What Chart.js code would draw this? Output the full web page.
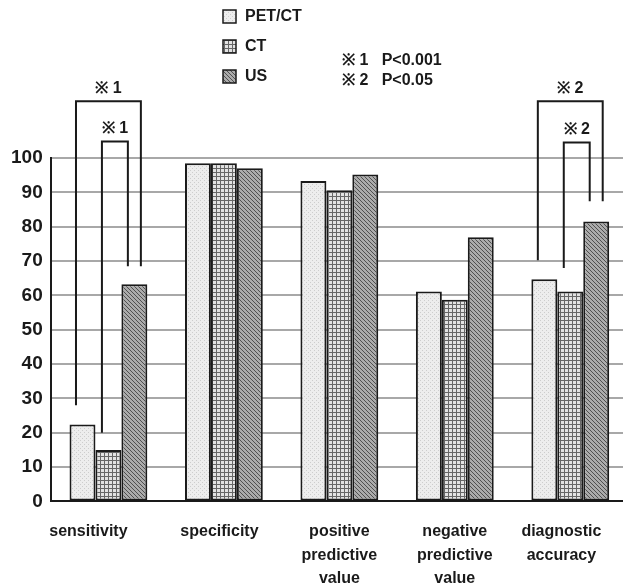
<!DOCTYPE html>
<html>
<head>
<meta charset="utf-8">
<script src="https://cdn.jsdelivr.net/npm/chart.js@4.4.1/dist/chart.umd.min.js"></script>
<style>
  body { margin: 0; overflow: hidden; background: #fff; }
</style>
</head>
<body>
<canvas id="mycanvas" width="632" height="586"></canvas>
<script>
// data
// (trailing spaces nudge the first and last labels left, as in the original)
var categories = [["sensitivity         "], ["specificity  "], ["positive", "predictive", "value"],
                  ["negative", "predictive", "value"], ["diagnostic    ", "accuracy    "]];
var seriesNames = ["PET/CT", "CT", "US"];
var petct = [22.4, 98.5, 93.3, 61.1, 64.7];
var ct    = [15.0, 98.5, 90.6, 58.7, 61.1];
var us    = [63.2, 97.0, 95.2, 76.9, 81.5];
var yMin = 0, yMax = 100, yStep = 10;
var notes = ["\u203B 1   P<0.001", "\u203B 2   P<0.05"];
// significance brackets: category, first/last bar, leg ends (value), top (value)
var brackets = [
  { cat: 0, from: 0, to: 2, left: 28,   right: 68.5, top: 116.5, label: "\u203B 1", inner: false },
  { cat: 0, from: 1, to: 2, left: 20,   right: 68.5, top: 104.8, label: "\u203B 1", inner: true },
  { cat: 4, from: 0, to: 2, left: 70.2, right: 87.4, top: 116.5, label: "\u203B 2", inner: false },
  { cat: 4, from: 1, to: 2, left: 68,   right: 87.4, top: 104.5, label: "\u203B 2", inner: true }
];

function makePattern(kind) {
  var c = document.createElement("canvas");
  c.width = 4; c.height = 4;
  var g = c.getContext("2d");
  if (kind == "dots") {
    g.fillStyle = "#ededed"; g.fillRect(0, 0, 4, 4);
    g.fillStyle = "#cdcdcd"; g.fillRect(0, 0, 1, 1); g.fillRect(2, 2, 1, 1);
  } else if (kind == "grid") {
    g.fillStyle = "#e2e2e2"; g.fillRect(0, 0, 4, 4);
    g.fillStyle = "#666666"; g.fillRect(0, 0, 4, 1); g.fillRect(0, 0, 1, 4);
  } else {
    g.fillStyle = "#ababab"; g.fillRect(0, 0, 4, 4);
    g.fillStyle = "#505050";
    for (var i = 0; i < 4; i++) g.fillRect(i, i, 1, 1);
  }
  return g.createPattern(c, "repeat");
}

var fills = [makePattern("dots"), makePattern("grid"), makePattern("hatch")];
var FONT = "'Liberation Sans', Arial, sans-serif";

var extras = {
  id: "extras",
  afterDraw: function(chart) {
    var ctx = chart.ctx;
    var y = chart.scales.y;
    ctx.save();
    ctx.strokeStyle = "#1a1a1a";
    ctx.lineWidth = 2;
    ctx.fillStyle = "#1a1a1a";
    ctx.font = "bold 16px " + FONT;
    ctx.textAlign = "center";
    ctx.textBaseline = "middle";
    brackets.forEach(function(b) {
      var x1 = chart.getDatasetMeta(b.from).data[b.cat].x - 6.5;
      var xTo = chart.getDatasetMeta(b.to).data[b.cat].x;
      var x2 = b.inner ? xTo - 6.5 : xTo + 6.5;
      var yt = y.getPixelForValue(b.top);
      ctx.beginPath();
      ctx.moveTo(x1, y.getPixelForValue(b.left));
      ctx.lineTo(x1, yt);
      ctx.lineTo(x2, yt);
      ctx.lineTo(x2, y.getPixelForValue(b.right));
      ctx.stroke();
      ctx.fillText(b.label, (x1 + x2) / 2, yt - 13);
    });

    // legend, one item per row
    ctx.textAlign = "left";
    seriesNames.forEach(function(name, i) {
      var ly = 17 + i * 30;
      ctx.fillStyle = fills[i];
      ctx.fillRect(223, ly - 7, 13, 13);
      ctx.lineWidth = 1.5;
      ctx.strokeRect(223, ly - 7, 13, 13);
      ctx.fillStyle = "#1a1a1a";
      ctx.fillText(name, 245, ly);
    });
    notes.forEach(function(t, i) {
      ctx.fillText(t, 342, 61 + i * 20);
    });
    ctx.restore();
  }
};

var chartdata = {
  labels: categories,
  datasets: [petct, ct, us].map(function(d, i) {
    return {
      label: seriesNames[i],
      data: d,
      backgroundColor: fills[i],
      borderColor: "#1a1a1a",
      borderWidth: 2,
      borderSkipped: false,
      categoryPercentage: 0.674,
      barPercentage: 1.0
    };
  })
};

Chart.defaults.font.family = FONT;
var LineGraph = new Chart(document.getElementById("mycanvas"), {
  type: "bar",
  data: chartdata,
  plugins: [extras],
  options: {
    responsive: false,
    animation: false,
    devicePixelRatio: 1,
    layout: { padding: { top: 158, left: 3, right: 4, bottom: -15 } },
    plugins: { legend: { display: false }, tooltip: { enabled: false } },
    scales: {
      x: {
        grid: { display: false },
        border: { color: "#1a1a1a", width: 2 },
        ticks: {
          color: "#1a1a1a",
          maxRotation: 0,
          autoSkip: false,
          padding: 11,
          font: { size: 16, weight: "bold", lineHeight: 1.45 }
        }
      },
      y: {
        min: yMin,
        max: yMax,
        grid: { color: "#a8a8a8", lineWidth: 2, drawTicks: false },
        border: { color: "#1a1a1a", width: 2 },
        ticks: {
          stepSize: yStep,
          color: "#1a1a1a",
          padding: 8,
          font: { size: 19, weight: "bold" }
        }
      }
    }
  }
});
</script>
</body>
</html>
